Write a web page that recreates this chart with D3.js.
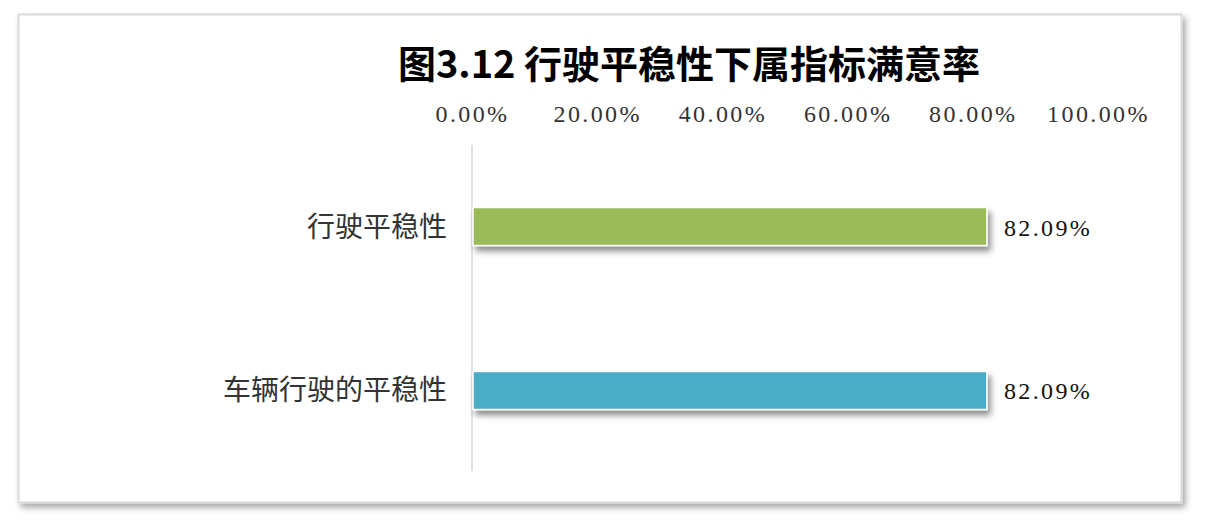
<!DOCTYPE html>
<html>
<head>
<meta charset="utf-8">
<script src="https://cdn.jsdelivr.net/npm/d3@7"></script>
<style>
  body { margin: 0; background: #fff; }
  svg { display: block; }
</style>
</head>
<body>
<svg id="chart" width="1206" height="526"></svg>
<script>
var categories = ["行驶平稳性", "车辆行驶的平稳性"];
var values = [0.8209, 0.8209];
var barColors = ["#9bbb59", "#4bacc6"];
var tickValues = [0, 0.2, 0.4, 0.6, 0.8, 1.0];
var title = "图3.12 行驶平稳性下属指标满意率";

var svg = d3.select("#chart");

var defs = svg.append("defs");
var frameShadow = defs.append("filter").attr("id", "frameShadow")
  .attr("x", "-5%").attr("y", "-5%").attr("width", "110%").attr("height", "115%");
frameShadow.append("feDropShadow").attr("dx", 3).attr("dy", 4)
  .attr("stdDeviation", 3).attr("flood-color", "#000").attr("flood-opacity", 0.35);

var barShadow = defs.append("filter").attr("id", "barShadow")
  .attr("x", "-5%").attr("y", "-40%").attr("width", "110%").attr("height", "200%");
barShadow.append("feDropShadow").attr("dx", 3).attr("dy", 5)
  .attr("stdDeviation", 3).attr("flood-color", "#000").attr("flood-opacity", 0.45);

// chart frame
svg.append("rect")
  .attr("x", 18.5).attr("y", 14.5)
  .attr("width", 1163).attr("height", 488)
  .attr("fill", "#fff")
  .attr("stroke", "#d9d9d9").attr("stroke-width", 2)
  .attr("filter", "url(#frameShadow)");

var x = d3.scaleLinear().domain([0, 1]).range([472, 1098]);
var y = d3.scaleBand().domain(categories).range([145, 472])
  .paddingInner(0.768).paddingOuter(0.381);

// title
svg.append("text")
  .attr("x", 689).attr("y", 78)
  .attr("text-anchor", "middle")
  .attr("font-family", "'Noto Sans CJK SC', sans-serif")
  .attr("font-weight", "bold")
  .attr("font-size", 38)
  .attr("fill", "#000")
  .text(title);

// top axis labels
var xAxis = d3.axisTop(x).tickValues(tickValues)
  .tickFormat(function (d) { return (d * 100).toFixed(2) + "%"; })
  .tickSize(0).tickPadding(0);
var gx = svg.append("g").attr("transform", "translate(0,122)").call(xAxis);
gx.select(".domain").remove();
gx.selectAll("text")
  .attr("font-family", "'Liberation Serif', serif")
  .attr("font-size", 24)
  .attr("letter-spacing", 2.4)
  .attr("fill", "#333")
  .attr("dy", 0);

// vertical axis line
svg.append("line")
  .attr("x1", x(0)).attr("x2", x(0))
  .attr("y1", 145).attr("y2", 471)
  .attr("stroke", "#d9d9d9").attr("stroke-width", 1.5);

// bars
svg.selectAll("rect.bar")
  .data(categories)
  .enter()
  .append("rect")
  .attr("class", "bar")
  .attr("x", x(0) + 1)
  .attr("y", function (d) { return y(d); })
  .attr("width", function (d, i) { return x(values[i]) - x(0); })
  .attr("height", y.bandwidth())
  .attr("fill", function (d, i) { return barColors[i]; })
  .attr("stroke", "#fff").attr("stroke-width", 1.5)
  .attr("filter", "url(#barShadow)");

// value labels
svg.selectAll("text.val")
  .data(categories)
  .enter()
  .append("text")
  .attr("class", "val")
  .attr("x", function (d, i) { return x(values[i]) + 18; })
  .attr("y", function (d) { return y(d) + y.bandwidth() / 2 + 9; })
  .attr("font-family", "'Liberation Serif', serif")
  .attr("font-size", 24)
  .attr("letter-spacing", 2.4)
  .attr("fill", "#111")
  .text(function (d, i) { return (values[i] * 100).toFixed(2) + "%"; });

// category labels
svg.selectAll("text.cat")
  .data(categories)
  .enter()
  .append("text")
  .attr("class", "cat")
  .attr("x", 447)
  .attr("y", function (d) { return y(d) + y.bandwidth() / 2 + 10; })
  .attr("text-anchor", "end")
  .attr("font-family", "'Noto Sans CJK SC', sans-serif")
  .attr("font-size", 28)
  .attr("fill", "#333")
  .text(function (d) { return d; });
</script>
</body>
</html>
